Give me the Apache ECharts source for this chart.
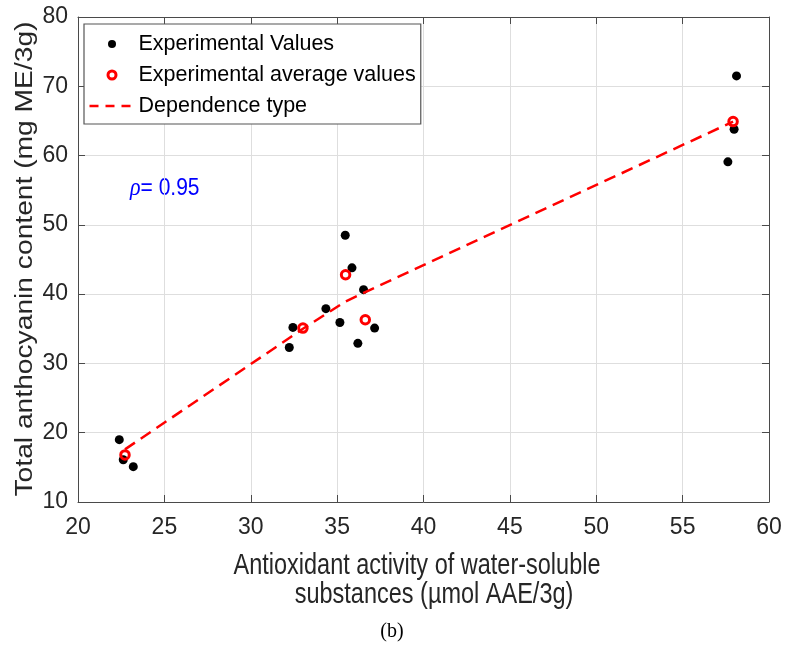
<!DOCTYPE html>
<html><head><meta charset="utf-8">
<script src="https://cdn.jsdelivr.net/npm/echarts@6/dist/echarts.min.js"></script>
<style>html,body{margin:0;padding:0;background:#fff}#c{width:791px;height:655px}</style>
</head><body><div id="c"></div>
<script>
// ---- data ----
const expX = [22.39, 22.62, 23.20, 32.23, 32.44, 34.35, 35.16, 35.47, 35.86, 36.20, 36.53, 37.17, 57.62, 57.98, 58.12];
const expY = [19.0, 16.1, 15.1, 32.3, 35.2, 37.9, 35.9, 48.5, 43.8, 32.9, 40.65, 35.1, 59.1, 63.8, 71.5];
const avgX = [22.72, 33.02, 35.49, 36.63, 57.92];
const avgY = [16.8, 35.1, 42.8, 36.3, 64.9];
const fitX = [22.72, 33.02, 35.49, 36.63, 57.92];
const fitY = [17.6, 35.0, 38.95, 40.3, 64.9];
const legendNames = ['Experimental Values', 'Experimental average values', 'Dependence type'];
const xTitleLines = ['Antioxidant activity of water-soluble', 'substances (µmol AAE/3g)'];
const yTitle = 'Total anthocyanin content (mg ME/3g)';
const rhoSymbol = 'ρ';
const rhoValue = '= 0.95';
const panelLabel = '(b)';
const xMin = 20, xMax = 60, xStep = 5;
const yMin = 10, yMax = 80, yStep = 10;

const zip = (a, b) => a.map((v, i) => [v, b[i]]);

const FONT = 'Liberation Sans, Arial, Helvetica, sans-serif';
const AXIS_COLOR = '#4a4a4a';
const GRID_COLOR = '#dedede';
const TEXT_COLOR = '#262626';

const dotPath = 'path://M0,0L0,0M45,12L45,12M22.5,2A4,4,0,1,1,22.5,10A4,4,0,1,1,22.5,2Z';
const ringPath = 'path://M0,0L0,0M45,12L45,12M22.5,2A4,4,0,1,1,22.5,10A4,4,0,1,1,22.5,2Z';
const dashPath = 'path://M0,0L0,0M45,12L45,12M0,6L45,6';

function baseAxis(extra) {
  return Object.assign({
    type: 'value',
    axisLine: { show: true, onZero: false, lineStyle: { color: AXIS_COLOR, width: 1 } },
    axisTick: { show: true, inside: true, length: 7, lineStyle: { color: AXIS_COLOR, width: 1 } },
    minorTick: { show: false },
    splitLine: { show: false },
    axisLabel: { show: false }
  }, extra);
}

const chart = echarts.init(document.getElementById('c'), null, { renderer: 'canvas' });
chart.setOption({
  backgroundColor: '#ffffff',
  animation: false,
  grid: { left: 78, right: 22, top: 17, bottom: 153, containLabel: false, outerBoundsMode: 'none' },
  xAxis: [
    baseAxis({
      min: xMin, max: xMax, interval: xStep, position: 'bottom',
      splitLine: { show: true, lineStyle: { color: GRID_COLOR, width: 1 } },
      axisLabel: { show: true, fontSize: 23, fontFamily: FONT, color: TEXT_COLOR, margin: 14 }
    }),
    baseAxis({ min: xMin, max: xMax, interval: xStep, position: 'top' })
  ],
  yAxis: [
    baseAxis({
      min: yMin, max: yMax, interval: yStep, position: 'left',
      splitLine: { show: true, lineStyle: { color: GRID_COLOR, width: 1 } },
      axisLabel: { show: true, fontSize: 23, fontFamily: FONT, color: TEXT_COLOR, margin: 10 }
    }),
    baseAxis({ min: yMin, max: yMax, interval: yStep, position: 'right' })
  ],
  legend: {
    left: 84, top: 24, orient: 'vertical',
    backgroundColor: '#ffffff',
    borderColor: '#555555', borderWidth: 1.2, borderRadius: 0,
    padding: [9, 5, 7, 4],
    itemWidth: 45, itemHeight: 12, itemGap: 9,
    textStyle: { fontSize: 21.5, lineHeight: 22, fontFamily: FONT, color: '#000000', padding: [0, 0, 0, -1] },
    selectedMode: false,
    data: [
      { name: legendNames[0], icon: dotPath, itemStyle: { color: '#000000', borderWidth: 0 } },
      { name: legendNames[1], icon: ringPath, itemStyle: { color: 'rgba(0,0,0,0)', borderColor: '#ff0000', borderWidth: 3 } },
      { name: legendNames[2], icon: dashPath, itemStyle: { color: 'rgba(0,0,0,0)', borderColor: '#ff0000', borderWidth: 2.5, borderType: [9, 7] } }
    ]
  },
  series: [
    {
      name: legendNames[0], type: 'scatter', xAxisIndex: 0, yAxisIndex: 0,
      data: zip(expX, expY), symbol: 'circle', symbolSize: 9,
      itemStyle: { color: '#000000', opacity: 1 }, z: 3,
      emphasis: { disabled: true }
    },
    {
      name: legendNames[2], type: 'line', xAxisIndex: 0, yAxisIndex: 0,
      data: zip(fitX, fitY), symbol: 'none', smooth: false,
      lineStyle: { color: '#ff0000', width: 2.5, type: [12, 7] },
      itemStyle: { color: '#ff0000' }, z: 4,
      emphasis: { disabled: true }
    },
    {
      name: legendNames[1], type: 'scatter', xAxisIndex: 0, yAxisIndex: 0,
      data: zip(avgX, avgY), symbol: 'circle', symbolSize: 8.5,
      itemStyle: { color: 'rgba(0,0,0,0)', borderColor: '#ff0000', borderWidth: 3, opacity: 1 }, z: 5,
      emphasis: { disabled: true }
    }
  ],
  graphic: [
    {
      type: 'text', x: 417, y: 566, scaleY: 1.28,
      style: { text: xTitleLines[0], x: 0, y: 0, align: 'center', verticalAlign: 'middle', font: '23.5px ' + FONT, fill: TEXT_COLOR }
    },
    {
      type: 'text', x: 434, y: 595, scaleY: 1.28,
      style: { text: xTitleLines[1], x: 0, y: 0, align: 'center', verticalAlign: 'middle', font: '23.5px ' + FONT, fill: TEXT_COLOR }
    },
    {
      type: 'text', x: 26, y: 259, rotation: Math.PI / 2, scaleX: 1.2,
      style: { text: yTitle, x: 0, y: 0, align: 'center', verticalAlign: 'middle', font: '23.5px ' + FONT, fill: TEXT_COLOR }
    },
    {
      type: 'text', x: 130, y: 188, scaleY: 1.15,
      style: {
        text: '{r|' + rhoSymbol + '}' + rhoValue, x: 0, y: 0, align: 'left', verticalAlign: 'middle',
        font: '21px ' + FONT, fill: '#0000ff',
        rich: { r: { fontStyle: 'italic', fontFamily: 'Liberation Serif, serif', fontSize: 22, fill: '#0000ff', color: '#0000ff' } }
      }
    },
    {
      type: 'text', x: 392, y: 632,
      style: { text: panelLabel, x: 0, y: 0, align: 'center', verticalAlign: 'middle', font: '20px Liberation Serif, Times New Roman, serif', fill: '#000000' }
    }
  ]
});
</script>
</body></html>
